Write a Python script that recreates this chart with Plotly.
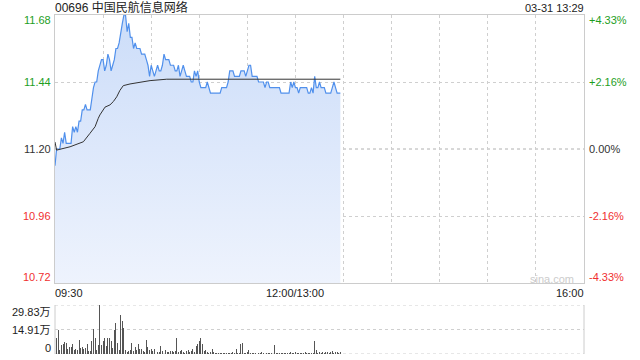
import plotly.graph_objects as go

# ---------------- data ----------------
minutes = list(range(179))  # minutes since 09:30 (12:00 and 13:00 share a position)

price = [
    11.14, 11.20, 11.20, 11.20, 11.24, 11.22, 11.26, 11.22, 11.22, 11.22,
    11.22, 11.28, 11.26, 11.28, 11.26, 11.30, 11.30, 11.34, 11.34, 11.36,
    11.34, 11.34, 11.34, 11.38, 11.42, 11.44, 11.44, 11.48, 11.50, 11.52,
    11.52, 11.48, 11.50, 11.54, 11.52, 11.48, 11.50, 11.52, 11.56, 11.56,
    11.58, 11.62, 11.65, 11.68, 11.68, 11.62, 11.65, 11.60, 11.60, 11.56,
    11.58, 11.56, 11.56, 11.56, 11.54, 11.54, 11.54, 11.52, 11.50, 11.46,
    11.50, 11.48, 11.46, 11.48, 11.50, 11.48, 11.48, 11.50, 11.54, 11.52,
    11.52, 11.52, 11.50, 11.50, 11.50, 11.48, 11.48, 11.50, 11.46, 11.48,
    11.50, 11.48, 11.46, 11.46, 11.46, 11.44, 11.44, 11.48, 11.46, 11.48,
    11.44, 11.42, 11.42, 11.42, 11.42, 11.44, 11.42, 11.40, 11.40, 11.40,
    11.40, 11.40, 11.40, 11.40, 11.42, 11.42, 11.42, 11.42, 11.44, 11.48,
    11.48, 11.48, 11.46, 11.46, 11.46, 11.46, 11.48, 11.48, 11.48, 11.46,
    11.48, 11.50, 11.50, 11.46, 11.46, 11.46, 11.46, 11.44, 11.44, 11.44,
    11.44, 11.42, 11.44, 11.44, 11.42, 11.42, 11.42, 11.42, 11.42, 11.42,
    11.42, 11.40, 11.40, 11.40, 11.40, 11.40, 11.40, 11.44, 11.42, 11.44,
    11.42, 11.42, 11.40, 11.42, 11.42, 11.42, 11.42, 11.42, 11.40, 11.40,
    11.42, 11.40, 11.46, 11.42, 11.42, 11.44, 11.42, 11.42, 11.42, 11.40,
    11.40, 11.40, 11.40, 11.42, 11.44, 11.42, 11.40, 11.40, 11.40,
]

avg_minutes = [0, 1, 9.4, 17.7, 21.8, 25, 27, 28, 31.2, 34.3, 36.4, 38.5,
               40.5, 42.6, 46.8, 59.3, 69.7, 88.4, 120, 150, 178]
avg_price = [11.225, 11.196, 11.208, 11.226, 11.256, 11.28, 11.31, 11.322,
             11.35, 11.358, 11.37, 11.387, 11.41, 11.427, 11.433, 11.445,
             11.45, 11.45, 11.45, 11.45, 11.45]

volume = [  # unit: 万
    5.2, 9.5, 14.5, 2.7, 5.2, 5.8, 7.2, 6.8, 3.0, 4.3,
    4.3, 5.8, 2.7, 3.3, 2.7, 8.3, 3.7, 4.3, 3.3, 3.7,
    5.8, 1.7, 2.0, 7.9, 15.1, 9.9, 2.7, 5.2, 29.83, 5.2,
    7.9, 9.9, 4.8, 9.9, 9.9, 7.9, 3.7, 14.5, 18.8, 6.4,
    2.7, 23.8, 20.3, 16.1, 2.7, 1.5, 1.7, 2.7, 6.4, 1.7,
    4.3, 2.7, 5.8, 3.0, 3.0, 1.7, 1.0, 8.5, 4.3, 2.7,
    3.0, 1.7, 3.0, 1.7, 1.0, 1.0, 4.8, 1.7, 11.4, 2.7,
    1.0, 1.5, 1.7, 2.0, 1.0, 1.7, 9.9, 1.0, 1.7, 2.7,
    1.0, 0.8, 1.7, 2.7, 1.0, 1.7, 3.0, 1.0, 4.8, 5.8,
    7.9, 9.9, 5.8, 1.7, 2.7, 1.0, 0.6, 1.0, 3.0, 1.0,
    0.5, 0.5, 0.6, 0.5, 0.5, 0.6, 0.5, 0.5, 0.5, 0.6,
    0.5, 1.0, 0.6, 3.0, 0.5, 0.5, 5.8, 6.4, 0.5, 0.5,
    1.0, 2.7, 0.5, 0.5, 0.6, 0.5, 0.8, 0.5, 0.6, 1.0,
    0.5, 0.6, 0.5, 0.8, 0.5, 0.6, 0.5, 5.2, 0.5, 0.6,
    0.5, 0.5, 0.6, 0.5, 0.8, 0.5, 0.5, 1.0, 0.6, 0.5,
    1.0, 0.6, 0.5, 0.8, 0.5, 0.6, 1.0, 0.5, 0.6, 0.8,
    0.5, 0.8, 7.9, 2.7, 0.8, 1.0, 0.6, 1.2, 0.8, 1.0,
    1.2, 0.8, 1.0, 1.7, 0.8, 1.2, 1.0, 0.6, 1.0,
]

price_ticks = [11.68, 11.44, 11.20, 10.96, 10.72]
price_tick_text = ["11.68", "11.44", "11.20", "10.96", "10.72"]
pct_tick_text = ["+4.33%", "+2.16%", "0.00%", "-2.16%", "-4.33%"]
tick_colors = ["#1e9e1e", "#1e9e1e", "#333333", "#f03030", "#f03030"]
vol_ticks = [29.83, 14.91, 0]
vol_tick_text = ["29.83万", "14.91万", "0"]
time_ticks = [0, 150, 330]
time_tick_text = ["09:30", "12:00/13:00", "16:00"]
grid_minutes = [30, 60, 90, 120, 150, 180, 210, 240, 270, 300]

title_text = "00696 中国民航信息网络"
stamp_text = "03-31 13:29"

FONT = "Liberation Sans, Arial, Noto Sans CJK SC, sans-serif"

fig = go.Figure()

fig.add_trace(go.Scatter(
    x=minutes, y=price, mode="lines",
    line=dict(color="#5090ec", width=1.2),
    fill="tozeroy",
    fillgradient=dict(type="vertical", start=10.72, stop=11.68,
                      colorscale=[[0, "rgb(238,243,253)"], [1, "rgb(204,221,249)"]]),
    xaxis="x", yaxis="y", hoverinfo="skip", showlegend=False,
))
fig.add_trace(go.Scatter(
    x=avg_minutes, y=avg_price, mode="lines",
    line=dict(color="#333333", width=1),
    xaxis="x", yaxis="y", hoverinfo="skip", showlegend=False,
))
fig.add_trace(go.Bar(
    x=minutes, y=volume, width=0.6,
    marker=dict(color="#555555", line=dict(width=0)),
    xaxis="x2", yaxis="y2", hoverinfo="skip", showlegend=False,
))

frame_col = "#cccccc"
grid_col = "#cfcfcf"

fig.update_layout(
    width=640, height=360,
    margin=dict(l=55, r=56, t=15, b=6),
    paper_bgcolor="white", plot_bgcolor="white",
    font=dict(family=FONT, size=11, color="#333333"),
    bargap=0,
    xaxis=dict(domain=[0, 1], range=[0, 330], tickvals=grid_minutes,
               showticklabels=False, ticks="", showgrid=True,
               gridcolor=grid_col, griddash="dot", gridwidth=1,
               zeroline=False, showline=True, mirror=True,
               linecolor=frame_col, linewidth=1, fixedrange=True),
    yaxis=dict(domain=[0.2094, 1], range=[10.72, 11.68],
               tickvals=[11.44, 10.96], showticklabels=False, ticks="",
               showgrid=True, gridcolor=grid_col, griddash="dot",
               zeroline=False, showline=True, mirror=True,
               linecolor=frame_col, linewidth=1, fixedrange=True),
    xaxis2=dict(domain=[0, 1], range=[0, 330], anchor="y2",
                showticklabels=False, ticks="", showgrid=False,
                zeroline=False, showline=False, fixedrange=True),
    yaxis2=dict(domain=[0, 0.1445], range=[0, 29.83], anchor="x2",
                showticklabels=False, ticks="", showgrid=False,
                zeroline=False, showline=False, fixedrange=True),
)

shapes = [
    dict(type="line", xref="x", yref="y", x0=0, x1=330, y0=11.20, y1=11.20,
         line=dict(color="#b0b0b0", width=1, dash="3px,3px"), layer="below"),
    dict(type="line", xref="x2 domain", yref="y2 domain", x0=0, x1=0, y0=0, y1=1,
         line=dict(color=frame_col, width=1)),
    dict(type="line", xref="x2 domain", yref="y2 domain", x0=1, x1=1, y0=0, y1=1,
         line=dict(color=frame_col, width=1)),
]
for v in vol_ticks:
    shapes.append(dict(type="line", xref="x2 domain", yref="y2", x0=0, x1=1,
                       y0=v, y1=v, line=dict(color=grid_col, width=1, dash="dot"),
                       layer="below"))
fig.update_layout(shapes=shapes)

ann = []
ann.append(dict(text=title_text, xref="paper", yref="paper", x=0, y=1.022,
                xanchor="left", yanchor="middle", showarrow=False,
                font=dict(size=12, color="#222222", family=FONT), xshift=-2))
ann.append(dict(text=stamp_text, xref="paper", yref="paper", x=1, y=1.022,
                xanchor="right", yanchor="middle", showarrow=False,
                font=dict(size=11, color="#222222", family=FONT), xshift=2))

shift_for = {0: -5, 4: 6}
for i, (v, lt, rt, c) in enumerate(zip(price_ticks, price_tick_text, pct_tick_text, tick_colors)):
    ys = shift_for.get(i, 0)
    ann.append(dict(text=lt, xref="paper", yref="y", x=0, y=v, xanchor="right",
                    yanchor="middle", showarrow=False, xshift=-2, yshift=ys,
                    font=dict(size=11, color=c)))
    ann.append(dict(text=rt, xref="paper", yref="y", x=1, y=v, xanchor="left",
                    yanchor="middle", showarrow=False, xshift=3, yshift=ys,
                    font=dict(size=11, color=c)))

vshift = {0: -7, 2: 6}
for i, (v, t) in enumerate(zip(vol_ticks, vol_tick_text)):
    ann.append(dict(text=t, xref="paper", yref="y2", x=0, y=v, xanchor="right",
                    yanchor="middle", showarrow=False, xshift=-2, yshift=vshift.get(i, 0),
                    font=dict(size=11, color="#222222")))

anchors = ["left", "center", "right"]
for v, t, a in zip(time_ticks, time_tick_text, anchors):
    ann.append(dict(text=t, xref="x", yref="paper", x=v, y=0.18, xanchor=a,
                    yanchor="middle", showarrow=False,
                    xshift=-2 if a == "left" else (2 if a == "right" else 0),
                    font=dict(size=11, color="#222222")))

ann.append(dict(text="sina.com", xref="x", yref="y", x=310, y=10.734,
                xanchor="center", yanchor="middle", showarrow=False,
                font=dict(size=11, color="#cccccc")))

fig.update_layout(annotations=ann)

fig.write_html("out.html", config={"displayModeBar": False, "staticPlot": True})
